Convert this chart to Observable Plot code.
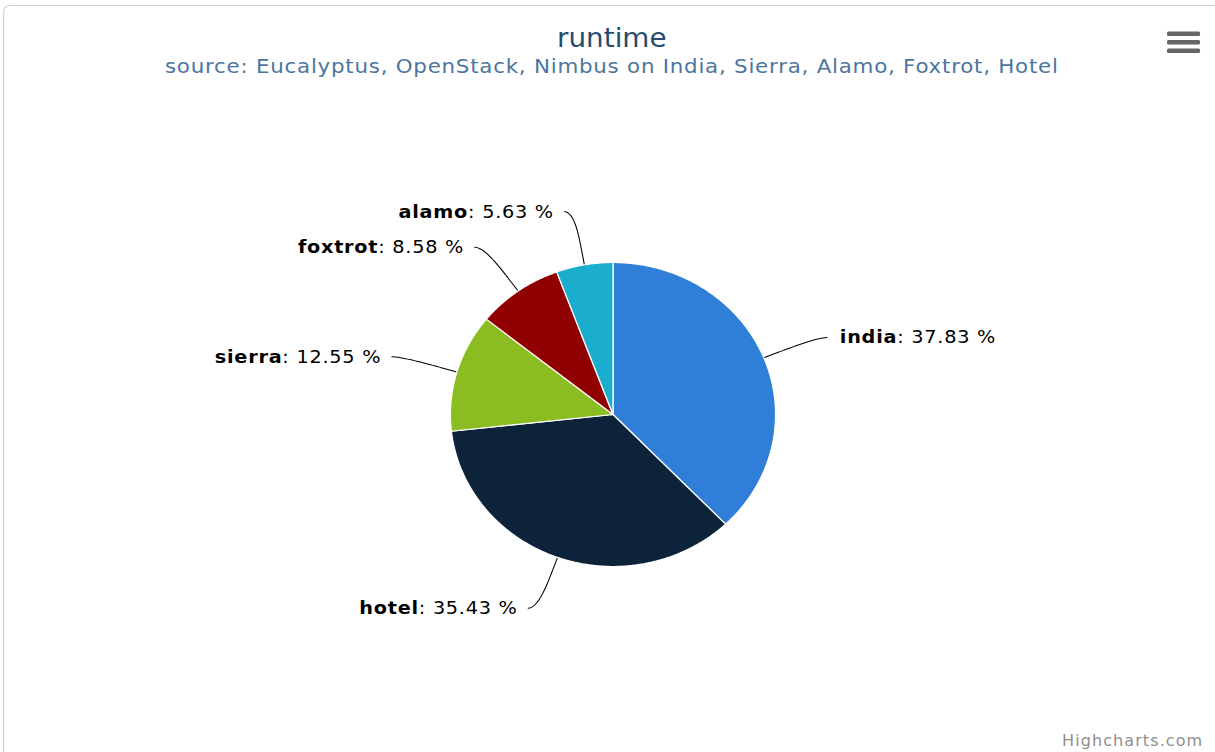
<!DOCTYPE html>
<html>
<head>
<meta charset="utf-8">
<script src="https://cdn.jsdelivr.net/npm/d3@7"></script>
<script src="https://cdn.jsdelivr.net/npm/@observablehq/plot@0.6"></script>
<style>
  html, body { margin: 0; padding: 0; background: #ffffff; overflow: hidden; }
  #stage { position: absolute; left: 0; top: 0; width: 1136px; height: 752px;
           transform: scaleX(1.0696); transform-origin: 0 0;
           font-family: "DejaVu Sans", sans-serif; }
  #frame { position: absolute; left: 3px; top: 5px; width: 1150px; height: 780px;
           border: 1px solid #cccccc; border-radius: 6px; box-sizing: border-box; }
  #title { position: absolute; left: 0; top: 22px; width: 1144px; text-align: center;
           font-size: 26px; line-height: 32px; color: #274b6d; }
  #subtitle { position: absolute; left: 0; top: 54px; width: 1144px; text-align: center;
              font-size: 20px; line-height: 24px; color: #4d759e; letter-spacing: 0.7px; }
  #chart { position: absolute; left: 0; top: 100px; }
  #credit { position: absolute; right: 11px; top: 731px; font-size: 15px; line-height: 20px;
            color: #909090; letter-spacing: 1px; }
  #menu { position: absolute; left: 1091px; top: 30px; }
</style>
</head>
<body>
<div id="stage">
  <div id="frame"></div>
  <div id="title"></div>
  <div id="subtitle"></div>
  <div id="chart"></div>
  <svg id="menu" width="32" height="25" viewBox="0 0 32 25">
    <rect x="0" y="1.5" width="31" height="4.4" rx="1.5" fill="#666666"></rect>
    <rect x="0" y="10" width="31" height="4.4" rx="1.5" fill="#666666"></rect>
    <rect x="0" y="18.5" width="31" height="4.4" rx="1.5" fill="#666666"></rect>
  </svg>
  <div id="credit">Highcharts.com</div>
</div>
<script>
// ---- data ----
const titleText = "runtime";
const subtitleText = "source: Eucalyptus, OpenStack, Nimbus on India, Sierra, Alamo, Foxtrot, Hotel";
const creditText = "Highcharts.com";
const names = ["india", "hotel", "sierra", "foxtrot", "alamo"];
const shares = [37.83, 35.43, 12.55, 8.58, 5.63];
const colors = ["#2f7ed8", "#0d233a", "#8bbc21", "#910000", "#1aadce"];

document.getElementById("title").textContent = titleText;
document.getElementById("subtitle").textContent = subtitleText;
document.getElementById("credit").textContent = creditText;

// ---- layout ----
const W = 1136, H = 630;
const cx = 572.6, cy = 314, r = 152;      // pie centre / radius in pixels
const labelRadius = 1.355;                // in pie radii
const breakOffset = 0.1;                  // connector break just outside the pie
const landing = 0.06;                     // connector end beyond label point

const rows = names.map((name, i) => ({name, share: shares[i]}));
const arcs = d3.pie().sort(null).value(d => d.share)(rows);

// slice outlines (unit circle, angle measured clockwise from the top)
const slicePts = [];
for (const a of arcs) {
  const name = a.data.name;
  const n = Math.max(2, Math.ceil((a.endAngle - a.startAngle) / (Math.PI / 360)));
  slicePts.push({name, x: 0, y: 0});
  for (let i = 0; i <= n; i++) {
    const t = a.startAngle + (a.endAngle - a.startAngle) * i / n;
    slicePts.push({name, x: Math.sin(t), y: Math.cos(t)});
  }
  slicePts.push({name, x: 0, y: 0});
}

// labels and soft connectors
const labels = [];
const connPts = [];
for (const a of arcs) {
  const name = a.data.name;
  const m = (a.startAngle + a.endAngle) / 2;
  const ux = Math.sin(m), uy = Math.cos(m);
  const right = ux >= 0;
  const L = {x: labelRadius * ux, y: labelRadius * uy};
  labels.push({name, right, x: L.x, y: L.y, text: `${name}: ${a.data.share.toFixed(2)} %`});
  const P0 = {x: L.x + (right ? landing : -landing), y: L.y};
  const C1 = L;
  const P3 = {x: (1 + breakOffset) * ux, y: (1 + breakOffset) * uy};
  const C2 = {x: (1 + 2 * breakOffset) * ux, y: (1 + 2 * breakOffset) * uy};
  const steps = 24;
  for (let i = 0; i <= steps; i++) {
    const t = i / steps, s = 1 - t;
    connPts.push({
      name,
      x: s*s*s*P0.x + 3*s*s*t*C1.x + 3*s*t*t*C2.x + t*t*t*P3.x,
      y: s*s*s*P0.y + 3*s*s*t*C1.y + 3*s*t*t*C2.y + t*t*t*P3.y
    });
  }
  connPts.push({name, x: ux, y: uy});
}

const chart = Plot.plot({
  width: W,
  height: H,
  margin: 0,
  style: {fontFamily: "DejaVu Sans, sans-serif", background: "transparent", overflow: "visible"},
  x: {type: "linear", domain: [-1, 1], range: [cx - r, cx + r], axis: null},
  y: {type: "linear", domain: [-1, 1], range: [cy + r, cy - r], axis: null},
  color: {domain: names, range: colors},
  marks: [
    Plot.line(connPts, {x: "x", y: "y", z: "name", stroke: "#000000", strokeWidth: 1, curve: "linear"}),
    Plot.line(slicePts, {x: "x", y: "y", z: "name", fill: "name", stroke: "#ffffff",
                         strokeWidth: 1.2, strokeLinejoin: "round", curve: "linear"}),
    Plot.text(labels.filter(d => d.right), {x: "x", y: "y", text: "text", textAnchor: "start",
                         dx: 21, fontSize: 18, fill: "#000000", lineAnchor: "middle"}),
    Plot.text(labels.filter(d => !d.right), {x: "x", y: "y", text: "text", textAnchor: "end",
                         dx: -19, fontSize: 18, fill: "#000000", lineAnchor: "middle"})
  ]
});

// bold category name, normal value (Highcharts style)
const ns = "http://www.w3.org/2000/svg";
chart.querySelectorAll('g[aria-label="text"] text').forEach(t => {
  const s = t.textContent;
  const i = s.indexOf(":");
  if (i < 0) return;
  t.textContent = "";
  t.setAttribute("letter-spacing", "0.7");
  const b = document.createElementNS(ns, "tspan");
  b.setAttribute("font-weight", "bold");
  b.textContent = s.slice(0, i);
  const rest = document.createElementNS(ns, "tspan");
  rest.textContent = s.slice(i);
  t.append(b, rest);
});

document.getElementById("chart").append(chart);
</script>
</body>
</html>
